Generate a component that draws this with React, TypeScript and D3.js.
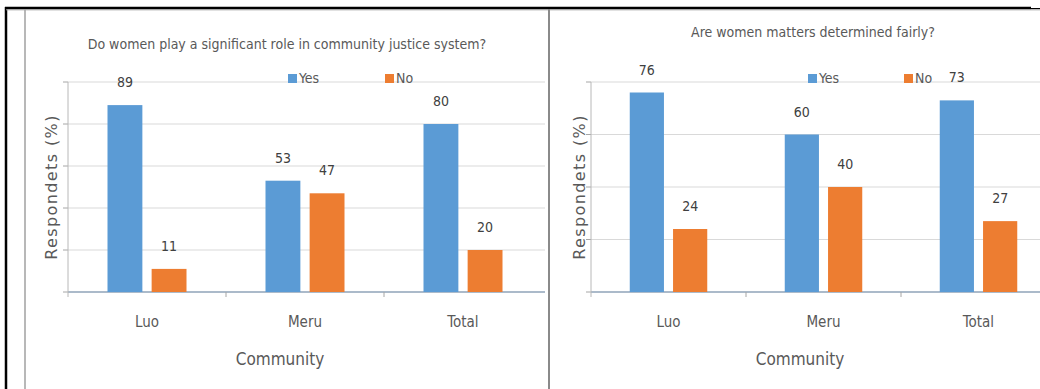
import React from "react";
import * as d3 from "d3";

const categories = ["Luo", "Meru", "Total"];
const seriesNames = ["Yes", "No"];
const yes1 = [89, 53, 80];
const no1 = [11, 47, 20];
const yes2 = [76, 60, 73];
const no2 = [24, 40, 27];
const title1 = "Do women play a significant role in community justice system?";
const title2 = "Are women matters determined fairly?";
const yTicks1 = [0, 20, 40, 60, 80, 100];
const yTicks2 = [0, 20, 40, 60, 80];

const BLUE = "#5B9BD5";
const ORANGE = "#ED7D31";
const NARROW = "'DejaVu Sans Condensed', 'Liberation Sans Narrow', sans-serif";

type PanelProps = {
  title: string;
  yes: number[];
  no: number[];
  yMax: number;
  ticks: number[];
  x0: number;
  step: number;
  gridEnd: number;
  titleX: number;
  titleY: number;
  yTitleX: number;
  legendYesX: number;
  legendNoX: number;
  communityX: number;
};

function Panel(p: PanelProps) {
  const top = 82;
  const base = 292;
  const x = d3
    .scaleBand<string>()
    .domain(categories)
    .range([p.x0, p.x0 + p.step * categories.length])
    .padding(0);
  const bw = x.bandwidth();
  const xs = d3
    .scaleBand<string>()
    .domain(seriesNames)
    .range([bw * 0.25, bw * 0.75])
    .paddingInner(0.21);
  const y = d3.scaleLinear().domain([0, p.yMax]).range([base, top]);
  const vals: Record<string, number[]> = { Yes: p.yes, No: p.no };
  const colors: Record<string, string> = { Yes: BLUE, No: ORANGE };
  return (
    <g>
      {p.ticks.map((t) => (
        <line
          key={"g" + t}
          x1={p.x0}
          x2={p.gridEnd}
          y1={y(t)}
          y2={y(t)}
          stroke={t === 0 ? "#8fa3b8" : "#d9d9d9"}
          strokeWidth={t === 0 ? 1.3 : 1}
        />
      ))}
      {p.ticks.map((t) => (
        <line key={"t" + t} x1={p.x0 - 5} x2={p.x0} y1={y(t)} y2={y(t)} stroke="#a6a6a6" />
      ))}
      <line x1={p.x0} x2={p.x0} y1={top} y2={base + 5} stroke="#b8b8b8" />
      {categories.slice(1).map((c) => (
        <line key={"ct" + c} x1={x(c)!} x2={x(c)!} y1={base} y2={base + 5} stroke="#a6a6a6" />
      ))}
      {categories.map((c, i) =>
        seriesNames.map((s) => {
          const v = vals[s][i];
          const bx = x(c)! + xs(s)!;
          return (
            <g key={c + s}>
              <rect x={bx} y={y(v)} width={xs.bandwidth()} height={base - y(v)} fill={colors[s]} />
              <text
                x={bx + xs.bandwidth() / 2}
                y={y(v) - 18}
                textAnchor="middle"
                fontFamily={NARROW}
                fontSize={14}
                fill="#404040"
              >
                {v}
              </text>
            </g>
          );
        })
      )}
      {categories.map((c) => (
        <text
          key={"l" + c}
          x={x(c)! + bw / 2}
          y={327}
          textAnchor="middle"
          fontFamily={NARROW}
          fontSize={15}
          fill="#595959"
        >
          {c}
        </text>
      ))}
      <text x={p.communityX} y={365} textAnchor="middle" fontFamily={NARROW} fontSize={17} fill="#595959">
        Community
      </text>
      <text
        transform={`translate(${p.yTitleX},187) rotate(-90)`}
        textAnchor="middle"
        fontFamily="'DejaVu Sans', sans-serif"
        fontSize={16}
        letterSpacing={1.4}
        fill="#595959"
        dominantBaseline="middle"
      >
        Respondets (%)
      </text>
      <text x={p.titleX} y={p.titleY} textAnchor="middle" fontFamily={NARROW} fontSize={14} fill="#595959">
        {p.title}
      </text>
      {[
        { s: "Yes", lx: p.legendYesX },
        { s: "No", lx: p.legendNoX },
      ].map(({ s, lx }) => (
        <g key={"lg" + s}>
          <rect x={lx} y={74} width={9} height={9} fill={colors[s]} />
          <text x={lx + 11} y={83} fontFamily={NARROW} fontSize={14} fill="#595959">
            {s}
          </text>
        </g>
      ))}
    </g>
  );
}

export default function App() {
  return (
    <svg
      width={1040}
      height={389}
      style={{ position: "absolute", left: 0, top: 0, background: "#fff" }}
    >
      <rect x={0} y={0} width={1040} height={389} fill="#fff" />
      <Panel
        title={title1}
        yes={yes1}
        no={no1}
        yMax={100}
        ticks={yTicks1}
        x0={68}
        step={158}
        gridEnd={545}
        titleX={287}
        titleY={49}
        yTitleX={52}
        legendYesX={288}
        legendNoX={385}
        communityX={280}
      />
      <Panel
        title={title2}
        yes={yes2}
        no={no2}
        yMax={80}
        ticks={yTicks2}
        x0={591}
        step={155}
        gridEnd={1040}
        titleX={813}
        titleY={37}
        yTitleX={580}
        legendYesX={808}
        legendNoX={904}
        communityX={800}
      />
      <line x1={6} x2={6} y1={7} y2={389} stroke="#000" strokeWidth={2.5} />
      <line x1={5} x2={1031} y1={8} y2={8} stroke="#000" strokeWidth={2.5} />
      <line x1={1031} x2={1040} y1={8.5} y2={8.5} stroke="#000" strokeWidth={1} />
      <line x1={6} x2={1040} y1={9.8} y2={9.8} stroke="#9a9a9a" strokeWidth={1} />
      <line x1={25} x2={25} y1={9} y2={389} stroke="#a0a0a0" strokeWidth={1.5} />
      <line x1={549} x2={549} y1={9} y2={389} stroke="#8a8a8a" strokeWidth={2} />
    </svg>
  );
}
